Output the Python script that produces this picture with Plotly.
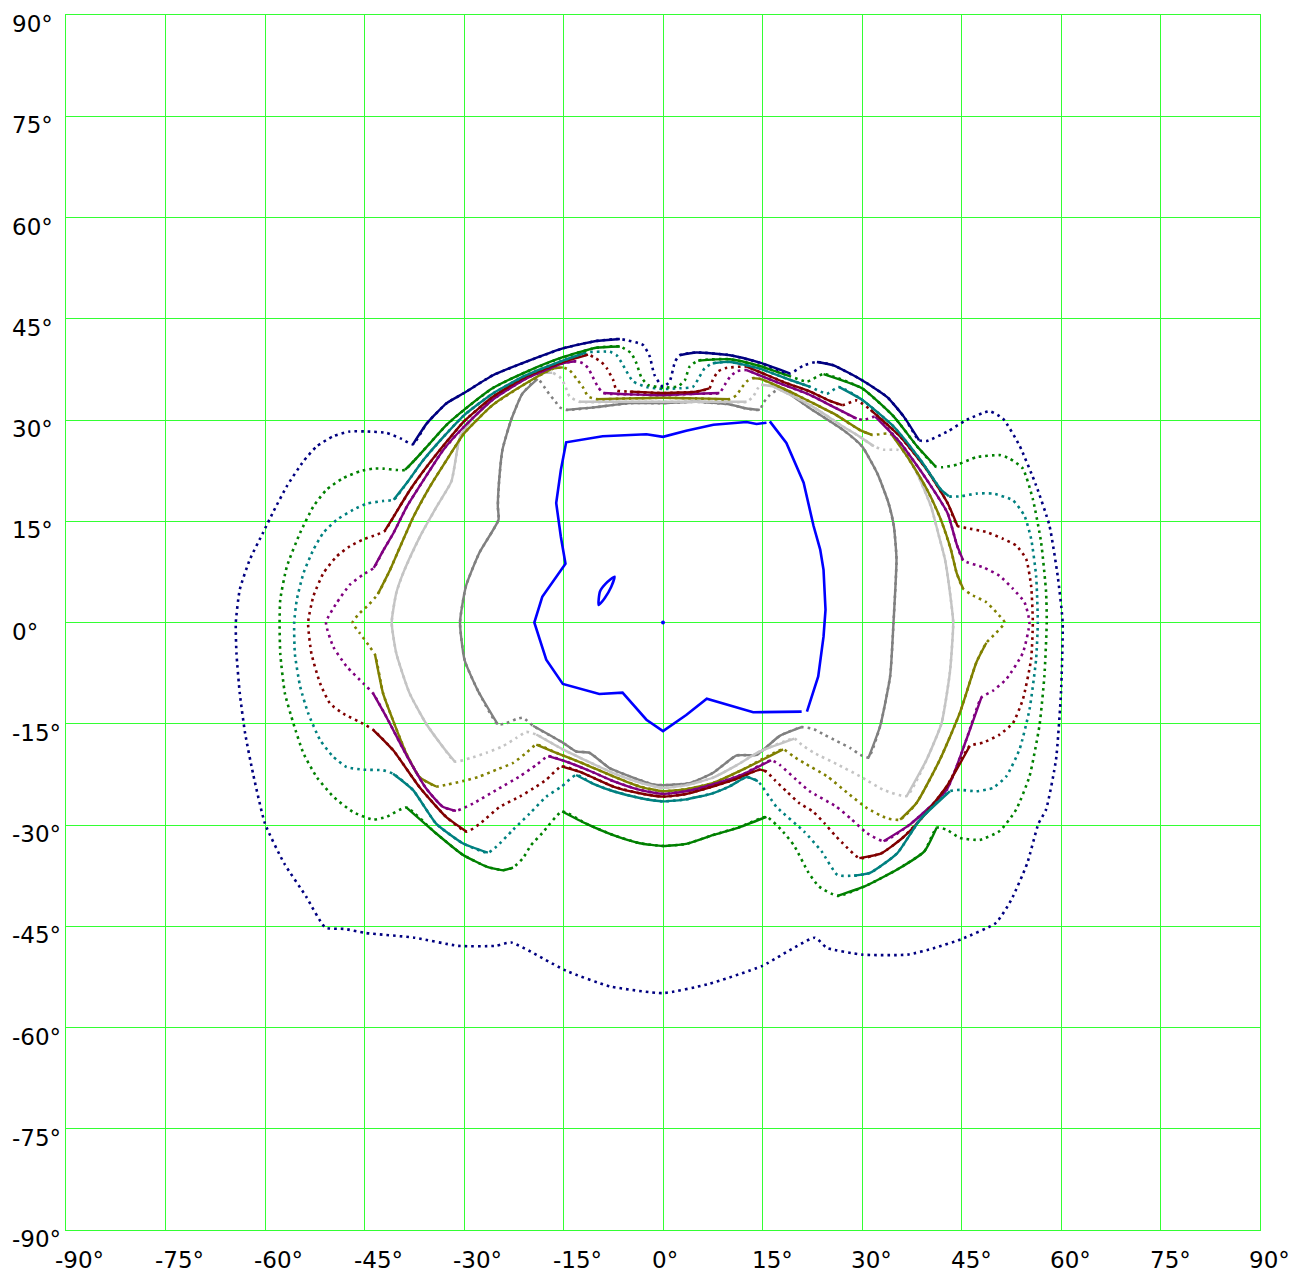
import plotly.graph_objects as go

TICKS = list(range(-90, 91, 15))

# Each contour: list of segments in drawing order; even-index segments are densely
# sampled (drawn solid), odd-index segments are sparsely sampled (dotted).
NAVY = [
    [(-37.7, 26.4), (-35.6, 29.5), (-32.6, 32.5), (-30.0, 34.0), (-25.7, 36.6), (-20.7, 38.6),
     (-15.1, 40.6), (-10.1, 41.7), (-6.5, 42.0)],
    [(-3.0, 41.1), (-2.0, 39.4), (-1.3, 36.7), (0.0, 34.9), (1.0, 35.7), (1.8, 38.6)],
    [(2.5, 39.6), (5.0, 40.0), (10.1, 39.6), (14.6, 38.5), (19.1, 36.9)],
    [(21.2, 38.1)],
    [(23.2, 38.6), (25.7, 38.1), (30.0, 35.9), (33.8, 33.4), (36.3, 30.5), (38.6, 27.0)],
    [(39.8, 26.9), (42.9, 28.3), (45.75, 30.0), (49.25, 31.3), (51.25, 30.2), (53.75, 26.2),
     (56.25, 20.3), (58.25, 14.4), (59.5, 6.9), (60.25, 0.0), (60.0, -10.4), (59.25, -20.3),
     (57.75, -27.7), (56.6, -29.8), (54.9, -35.7), (52.5, -41.1), (50.2, -44.5), (45.0, -46.9),
     (41.0, -48.2), (36.9, -49.2), (30.0, -49.2), (24.7, -48.2), (22.9, -46.7), (14.9, -50.9),
     (6.7, -53.6), (0.0, -54.9), (-8.0, -53.9), (-14.6, -51.6), (-22.9, -47.4), (-25.2, -47.9),
     (-30.9, -47.9), (-37.4, -46.7), (-44.8, -46.0), (-48.0, -45.4), (-50.9, -45.2),
     (-53.8, -40.6), (-57.1, -35.7), (-60.0, -29.8), (-61.8, -22.4), (-63.0, -16.4),
     (-63.8, -10.5), (-64.3, -4.6), (-64.4, 0.0), (-63.8, 4.9), (-62.3, 9.3), (-60.3, 13.3),
     (-58.7, 16.5), (-56.7, 20.2), (-54.2, 23.9), (-52.2, 26.1), (-49.7, 27.6), (-47.2, 28.3),
     (-44.7, 28.3), (-41.7, 28.1), (-39.4, 27.2), (-37.7, 26.4)],
]

GREEN = [
    [(-38.9, 22.6), (-37.4, 24.1), (-35.1, 26.6), (-32.6, 29.3), (-30.0, 31.5), (-25.7, 34.7),
     (-20.7, 37.1), (-15.1, 39.3), (-10.1, 40.7), (-6.5, 40.9)],
    [(-4.8, 39.9), (-4.0, 38.4), (-3.3, 36.4), (-2.3, 35.2), (0.0, 34.8), (2.3, 35.0),
     (3.3, 35.9), (4.0, 37.9)],
    [(5.3, 38.8), (10.1, 39.0), (14.6, 38.0), (19.1, 36.5)],
    [(21.7, 35.7)],
    [(24.2, 36.8), (30.0, 34.7), (34.8, 30.5), (38.3, 26.1), (41.1, 23.1)],
    [(42.1, 23.0), (44.4, 23.4), (47.25, 24.5), (50.75, 24.8), (52.25, 24.3), (54.25, 22.8),
     (55.75, 18.3), (57.0, 11.9), (57.75, 4.5), (57.85, 0.0), (57.5, -7.9), (56.75, -15.3),
     (55.25, -22.8), (53.25, -27.7), (50.75, -30.9), (47.75, -32.2), (44.75, -31.9),
     (42.75, -30.7)],
    [(41.25, -30.4), (39.4, -33.9), (35.3, -36.6), (30.4, -39.1), (26.3, -40.5)],
    [(23.5, -39.1), (21.9, -37.0), (19.8, -33.1), (18.1, -31.0)],
    [(15.6, -28.8), (11.6, -30.3), (7.5, -31.5), (3.5, -32.8), (0.0, -33.1), (-3.5, -32.7),
     (-7.5, -31.5), (-11.6, -29.8), (-15.2, -28.0)],
    [(-18.2, -31.2), (-19.9, -33.0), (-21.1, -34.9)],
    [(-22.6, -36.3), (-24.1, -36.7), (-26.5, -36.2), (-30.2, -34.4), (-34.5, -31.0), (-38.7, -27.4)],
    [(-41.7, -28.8), (-43.7, -29.2), (-46.7, -28.1), (-49.7, -25.8), (-52.2, -22.9),
     (-54.2, -19.4), (-55.7, -15.0), (-57.0, -10.5), (-57.7, -4.6), (-57.8, 0.0), (-57.7, 3.4),
     (-56.7, 8.3), (-54.7, 13.3), (-52.7, 17.2), (-50.7, 19.7), (-48.2, 21.4), (-45.7, 22.4),
     (-43.7, 22.8), (-42.2, 22.8), (-40.2, 22.6), (-38.9, 22.6)],
]

TEAL = [
    [(-40.6, 18.2), (-38.6, 20.7), (-36.1, 24.1), (-33.1, 27.5), (-30.0, 30.7), (-25.7, 33.9),
     (-20.7, 36.6), (-15.1, 38.8), (-11.6, 40.0)],
    [(-8.0, 40.1), (-7.0, 39.6), (-6.3, 38.6), (-5.5, 37.2), (-4.5, 35.7), (-2.5, 34.9),
     (0.0, 34.6), (2.5, 34.7), (4.5, 34.9), (5.5, 36.4), (6.3, 37.7)],
    [(7.5, 38.4), (10.1, 38.6), (14.6, 37.6), (19.0, 36.0), (22.2, 34.9)],
    [(24.7, 33.9)],
    [(26.5, 34.9), (30.0, 33.0), (34.8, 29.0), (38.8, 24.1), (41.9, 19.7), (43.1, 18.7)],
    [(44.9, 18.7), (47.25, 19.1), (49.75, 19.1), (52.75, 18.1), (54.5, 15.8), (55.5, 12.4),
     (56.25, 6.9), (56.5, 0.0), (56.25, -5.4), (55.25, -12.9), (53.75, -18.8), (51.75, -22.8),
     (49.75, -24.5), (47.25, -25.0), (44.75, -24.8)],
    [(43.25, -25.0), (38.75, -29.2), (35.3, -34.2), (31.2, -37.1), (28.8, -37.5)],
    [(26.3, -37.4), (23.9, -33.9), (21.3, -31.0), (17.1, -27.3)],
    [(14.3, -23.5), (12.6, -22.9), (10.0, -24.3), (7.5, -25.3), (3.5, -26.2), (0.0, -26.5),
     (-3.5, -26.0), (-7.5, -25.0), (-10.5, -23.9), (-13.1, -22.6)],
    [(-15.3, -24.3), (-17.6, -25.8), (-20.1, -28.3), (-22.6, -30.7), (-25.1, -33.2)],
    [(-26.4, -34.1), (-30.2, -32.7), (-34.2, -29.8), (-37.7, -24.8), (-40.7, -22.4)],
    [(-42.2, -21.9), (-45.2, -21.8), (-47.7, -21.4), (-49.7, -19.9), (-51.7, -17.4),
     (-53.5, -13.4), (-54.7, -9.5), (-55.5, -4.6), (-55.6, 0.0), (-55.2, 3.4), (-54.2, 7.3),
     (-52.7, 10.8), (-51.2, 13.3), (-49.2, 15.2), (-46.7, 16.7), (-44.7, 17.6), (-42.2, 18.0),
     (-40.6, 18.2)],
]

DARKRED = [
    [(-42.0, 13.5), (-40.6, 15.7), (-38.1, 19.7), (-35.6, 23.1), (-32.6, 26.8), (-30.0, 29.8),
     (-25.7, 33.4), (-20.7, 36.4), (-15.1, 38.6), (-11.3, 39.7)],
    [(-10.1, 39.1), (-9.3, 38.6), (-8.5, 37.7), (-7.5, 35.9), (-7.0, 34.4)],
    [(-5.0, 34.2), (0.0, 34.0), (5.0, 34.2), (7.0, 34.7)],
    [(7.5, 35.9), (8.3, 37.2), (9.5, 37.7)],
    [(12.6, 37.9), (14.6, 37.1), (18.5, 35.5), (22.2, 34.2), (25.0, 32.9), (27.0, 32.2)],
    [(29.2, 32.9)],
    [(31.3, 31.5), (35.8, 27.5), (39.8, 22.6), (42.9, 17.7), (44.4, 14.3)],
    [(45.75, 14.0), (48.75, 13.4), (51.25, 12.4), (53.25, 11.4), (54.75, 9.4), (55.5, 5.4),
     (55.75, 0.0), (55.5, -5.4), (54.25, -11.4), (52.75, -14.9), (50.75, -16.6), (48.25, -17.8)],
    [(46.25, -18.3), (42.75, -24.3), (39.0, -29.0), (36.0, -32.0), (32.9, -34.2), (29.6, -34.9)],
    [(27.1, -32.7), (25.9, -31.5), (24.4, -29.8), (22.6, -28.0), (20.6, -26.8), (18.6, -25.0),
     (16.8, -23.3)],
    [(15.6, -22.1), (14.6, -21.8), (11.0, -23.2), (7.5, -24.3), (3.5, -25.4), (0.0, -25.8),
     (-3.5, -25.3), (-7.5, -24.3), (-10.5, -23.0), (-12.6, -22.1), (-15.3, -21.3)],
    [(-17.6, -23.3), (-19.1, -24.3), (-21.6, -25.8), (-24.6, -27.3), (-27.6, -29.8)],
    [(-29.6, -31.0), (-32.7, -28.8), (-36.7, -24.4), (-40.7, -18.9), (-43.7, -15.9)],
    [(-45.2, -15.0), (-48.2, -13.5), (-50.2, -12.0), (-51.7, -9.0), (-53.0, -4.6), (-53.5, 0.0),
     (-52.7, 3.9), (-51.2, 7.3), (-49.2, 9.8), (-47.2, 11.3), (-45.2, 12.3), (-43.2, 13.0),
     (-42.0, 13.5)],
]

PURPLE = [
    [(-43.6, 8.1), (-42.1, 10.8), (-40.6, 13.3), (-38.6, 17.2), (-36.1, 21.1), (-33.1, 25.6),
     (-30.0, 29.0), (-25.7, 33.0), (-20.7, 36.1), (-15.1, 38.4), (-13.1, 38.7)],
    [(-12.1, 38.4), (-11.3, 37.7), (-10.6, 36.4), (-9.8, 34.9)],
    [(-9.0, 34.0), (-5.0, 33.8), (0.0, 33.7), (5.0, 33.9), (8.5, 34.0)],
    [(9.3, 35.2), (10.1, 36.4), (11.1, 37.2)],
    [(12.6, 37.4), (14.6, 36.6), (18.5, 35.1), (22.2, 33.7), (26.0, 31.8), (29.2, 30.2)],
    [(30.3, 30.0)],
    [(32.0, 30.5), (35.8, 26.6), (39.8, 21.1), (42.9, 16.2), (44.3, 11.5), (45.25, 9.2)],
    [(48.25, 8.2), (50.75, 6.9), (52.75, 5.0), (54.5, 3.0), (55.25, 0.0), (54.25, -4.5),
     (51.75, -8.4), (49.75, -10.1)],
    [(48.0, -11.1), (45.75, -17.3), (42.75, -24.8), (37.25, -29.9), (33.25, -32.4)],
    [(30.75, -31.2), (28.25, -29.0), (26.0, -27.2), (22.1, -25.0), (20.1, -23.3), (17.6, -21.1)],
    [(16.3, -20.4), (12.0, -22.5), (7.5, -24.0), (3.5, -25.0), (0.0, -25.4), (-3.5, -24.8),
     (-7.5, -23.5), (-11.0, -22.0), (-14.6, -20.6), (-17.3, -19.8)],
    [(-19.1, -21.1), (-21.6, -22.8), (-25.1, -24.8), (-28.6, -26.8)],
    [(-31.2, -27.9), (-33.2, -27.3), (-35.7, -24.6), (-38.7, -19.6), (-41.7, -14.0), (-43.7, -10.5)],
    [(-45.2, -9.0), (-47.7, -6.5), (-49.7, -3.6), (-50.8, 0.0), (-49.2, 2.9), (-47.2, 5.6),
     (-45.2, 7.1), (-43.6, 8.1)],
]

OLIVE = [
    [(-43.0, 4.2), (-41.1, 7.9), (-39.6, 11.3), (-37.6, 15.7), (-35.1, 20.2), (-32.6, 24.1),
     (-30.0, 28.0), (-25.7, 32.2), (-20.7, 35.4), (-16.6, 37.6), (-15.1, 37.8)],
    [(-14.1, 37.4), (-13.1, 36.2), (-12.1, 34.9), (-11.3, 33.5)],
    [(-10.1, 33.1), (-5.0, 33.2), (0.0, 33.3), (5.0, 33.2), (10.1, 33.1)],
    [(11.1, 33.7), (11.8, 34.7), (12.6, 35.7)],
    [(13.6, 36.2), (14.6, 36.1), (18.5, 34.5), (22.2, 32.7), (26.0, 30.8), (29.7, 28.5), (31.5, 27.8)],
    [(33.8, 28.0)],
    [(34.5, 27.8), (36.8, 24.6), (39.8, 19.7), (41.9, 15.2), (43.4, 10.8), (44.25, 7.4), (45.25, 5.0)],
    [(46.75, 4.0), (48.75, 3.0), (50.25, 1.5), (51.5, 0.0), (50.25, -1.5)],
    [(48.75, -3.0), (47.25, -5.9), (44.75, -13.4), (41.75, -20.3), (38.25, -26.7), (35.75, -29.2)],
    [(33.75, -29.0), (30.75, -27.5), (27.75, -25.2), (24.75, -22.8), (21.25, -20.8), (19.6, -19.8)],
    [(18.1, -18.8), (12.0, -21.8), (7.5, -23.8), (3.5, -24.7), (0.0, -25.0), (-3.5, -24.3),
     (-7.5, -22.8), (-12.0, -20.9), (-16.1, -19.3), (-19.1, -18.1)],
    [(-20.6, -19.3), (-22.6, -20.8), (-25.1, -21.8), (-27.6, -22.8), (-30.2, -23.5), (-32.5, -24.0)],
    [(-34.2, -24.3), (-36.7, -22.9), (-38.7, -19.4), (-40.7, -14.5), (-42.2, -10.5), (-43.4, -4.8)],
    [(-44.2, -3.6), (-45.7, -1.6), (-46.8, 0.0), (-45.7, 1.4), (-44.4, 2.6), (-43.0, 4.2)],
]

SILVER = [
    [(-31.4, -20.6), (-33.2, -18.4), (-35.7, -15.0), (-38.2, -10.5), (-40.2, -4.6), (-40.9, 0.0),
     (-40.2, 4.4), (-39.1, 7.5), (-36.6, 12.8), (-34.1, 17.2), (-31.9, 20.9), (-30.6, 27.5),
     (-28.7, 30.2), (-25.7, 33.0), (-23.2, 35.2), (-19.7, 36.9), (-16.7, 37.0)],
    [(-15.6, 36.4), (-14.8, 35.2), (-14.1, 33.5)],
    [(-12.6, 32.7), (-7.5, 32.7), (0.0, 32.7), (7.5, 32.7), (12.6, 32.7)],
    [(13.6, 33.5), (14.3, 34.7)],
    [(14.8, 35.2), (16.5, 35.0), (18.6, 34.0), (22.2, 32.2), (27.2, 29.0), (29.7, 27.5), (31.8, 26.1)],
    [(33.3, 25.6), (35.3, 25.6)],
    [(36.6, 25.1), (38.3, 22.1), (40.4, 17.2), (41.6, 12.8), (42.5, 9.4), (43.25, 4.5),
     (43.75, 0.0), (43.25, -7.4), (42.0, -14.9), (39.75, -20.3), (36.75, -25.7)],
    [(33.25, -24.8), (29.75, -22.8), (26.25, -21.0), (22.75, -19.3), (20.9, -18.1)],
    [(19.8, -17.2), (14.6, -19.1), (11.0, -21.2), (7.5, -23.0), (3.5, -24.1), (0.0, -24.5),
     (-3.5, -23.7), (-7.5, -22.3), (-11.5, -20.5), (-15.1, -18.8), (-19.1, -16.6)],
    [(-20.6, -16.2), (-22.1, -17.1), (-24.1, -18.3), (-26.6, -19.3), (-29.1, -20.1), (-31.4, -20.6)],
]

GRAY = [
    [(-24.9, -15.1), (-27.9, -10.1), (-29.9, -5.6), (-30.6, 0.0), (-29.7, 5.4), (-27.7, 10.3),
     (-24.8, 15.2), (-24.9, 17.2), (-24.7, 21.1), (-24.2, 25.6), (-22.9, 30.0), (-21.2, 33.9),
     (-18.9, 36.1)],
    [(-17.9, 34.9), (-17.2, 33.9), (-16.2, 32.7), (-15.6, 31.9)],
    [(-14.6, 31.5), (-10.1, 31.9), (-5.0, 32.5), (0.0, 32.5), (5.0, 32.7), (10.1, 32.3),
     (12.6, 31.7), (14.6, 31.5)],
    [(15.1, 32.5), (16.1, 33.7), (17.1, 34.4)],
    [(18.1, 34.5), (22.2, 31.7), (27.2, 28.5), (30.0, 26.1), (32.3, 22.1), (34.0, 17.7),
     (34.8, 14.3), (35.2, 9.4), (34.75, 0.0), (34.25, -7.9), (32.75, -15.3), (31.0, -20.0)],
    [(29.75, -19.6), (28.25, -18.6), (26.25, -17.6), (24.25, -16.6), (22.75, -15.8)],
    [(20.9, -15.5), (17.6, -16.8), (14.1, -19.6), (11.1, -19.7), (7.5, -22.3), (4.0, -23.8),
     (0.0, -24.1), (-1.5, -24.0), (-5.0, -22.8), (-8.0, -21.6), (-11.1, -19.3), (-13.1, -19.1),
     (-15.1, -17.8), (-19.6, -15.3)],
    [(-21.1, -14.1), (-22.1, -14.3), (-23.6, -14.9), (-24.9, -15.1)],
]

BLUE_MAIN = [(15.6, 29.6), (14.1, 29.4), (12.6, 29.7), (7.6, 29.3), (3.5, 28.4), (0.0, 27.5),
             (-2.5, 27.9), (-9.1, 27.6), (-14.6, 26.7), (-15.4, 22.6), (-16.1, 17.7),
             (-15.4, 12.7), (-14.7, 8.7), (-18.2, 3.8), (-19.4, 0.0), (-17.6, -5.5),
             (-15.1, -9.1), (-9.6, -10.6), (-6.1, -10.4), (-2.5, -14.4), (0.0, -16.1),
             (3.5, -13.7), (6.6, -11.3), (13.6, -13.3), (20.9, -13.2)]
BLUE_RIGHT = [(16.1, 29.8), (18.6, 26.6), (21.2, 20.7), (22.7, 14.3), (23.7, 10.8), (24.2, 7.8),
              (24.5, 1.9), (24.2, -2.1), (23.4, -8.0), (21.7, -13.2)]
BLUE_LOOP = [(-9.7, 2.6), (-9.5, 4.6), (-8.6, 5.8), (-7.3, 6.8), (-7.8, 5.3), (-8.8, 3.6), (-9.7, 2.6)]
CENTER = [(0.0, 0.0)]

CURVES = [
    (GRAY, "#808080"),
    (SILVER, "#c4c4c4"),
    (OLIVE, "#808000"),
    (PURPLE, "#800080"),
    (DARKRED, "#800000"),
    (TEAL, "#008080"),
    (GREEN, "#008000"),
    (NAVY, "#000080"),
]

GRID = "#33ff33"
FONT = "DejaVu Sans"

fig = go.Figure()

for segs, color in CURVES:
    pts = [p for s in segs for p in s]
    fig.add_trace(go.Scatter(
        x=[p[0] for p in pts], y=[p[1] for p in pts], mode="lines",
        line=dict(color=color, width=2.6, dash="2.6px,4px", shape="spline", smoothing=0.5),
        hoverinfo="skip", showlegend=False))
    for i, s in enumerate(segs):
        if i % 2 == 0 and len(s) > 1:
            fig.add_trace(go.Scatter(
                x=[p[0] for p in s], y=[p[1] for p in s], mode="lines",
                line=dict(color=color, width=2.4, shape="spline", smoothing=0.5),
                hoverinfo="skip", showlegend=False))

for pts in (BLUE_MAIN, BLUE_RIGHT):
    fig.add_trace(go.Scatter(
        x=[p[0] for p in pts], y=[p[1] for p in pts], mode="lines",
        line=dict(color="#0000ff", width=2.6), hoverinfo="skip", showlegend=False))
fig.add_trace(go.Scatter(
    x=[p[0] for p in BLUE_LOOP], y=[p[1] for p in BLUE_LOOP], mode="lines",
    line=dict(color="#0000ff", width=2.6, shape="spline", smoothing=0.6),
    hoverinfo="skip", showlegend=False))

fig.add_trace(go.Scatter(
    x=[p[0] for p in CENTER], y=[p[1] for p in CENTER], mode="markers",
    marker=dict(color="#0000ff", size=4), hoverinfo="skip", showlegend=False))

annotations = []
for v in TICKS:
    annotations.append(dict(
        text=f"{v}°", xref="paper", x=0, xanchor="left", xshift=-56,
        yref="y", y=v, yanchor="middle", yshift=-9, showarrow=False,
        font=dict(family=FONT, size=23, color="#000000")))
    annotations.append(dict(
        text=f"{v}°", xref="x", x=v, xanchor="left", xshift=-13,
        yref="paper", y=0, yanchor="middle", yshift=-30, showarrow=False,
        font=dict(family=FONT, size=23, color="#000000")))

axis_common = dict(
    range=[-90, 90], tickvals=TICKS, showticklabels=False, ticks="",
    showgrid=True, gridcolor=GRID, gridwidth=1, zeroline=False,
    showline=True, linecolor=GRID, linewidth=1, mirror=True, fixedrange=True,
)

fig.update_layout(
    width=1291, height=1274,
    margin=dict(l=66, r=31, t=15, b=44, pad=0),
    paper_bgcolor="white", plot_bgcolor="white",
    xaxis=axis_common, yaxis=axis_common,
    annotations=annotations, showlegend=False, hovermode=False,
)

fig.write_html("out.html", config={"displayModeBar": False},
               post_script="document.body.style.margin='0';")
